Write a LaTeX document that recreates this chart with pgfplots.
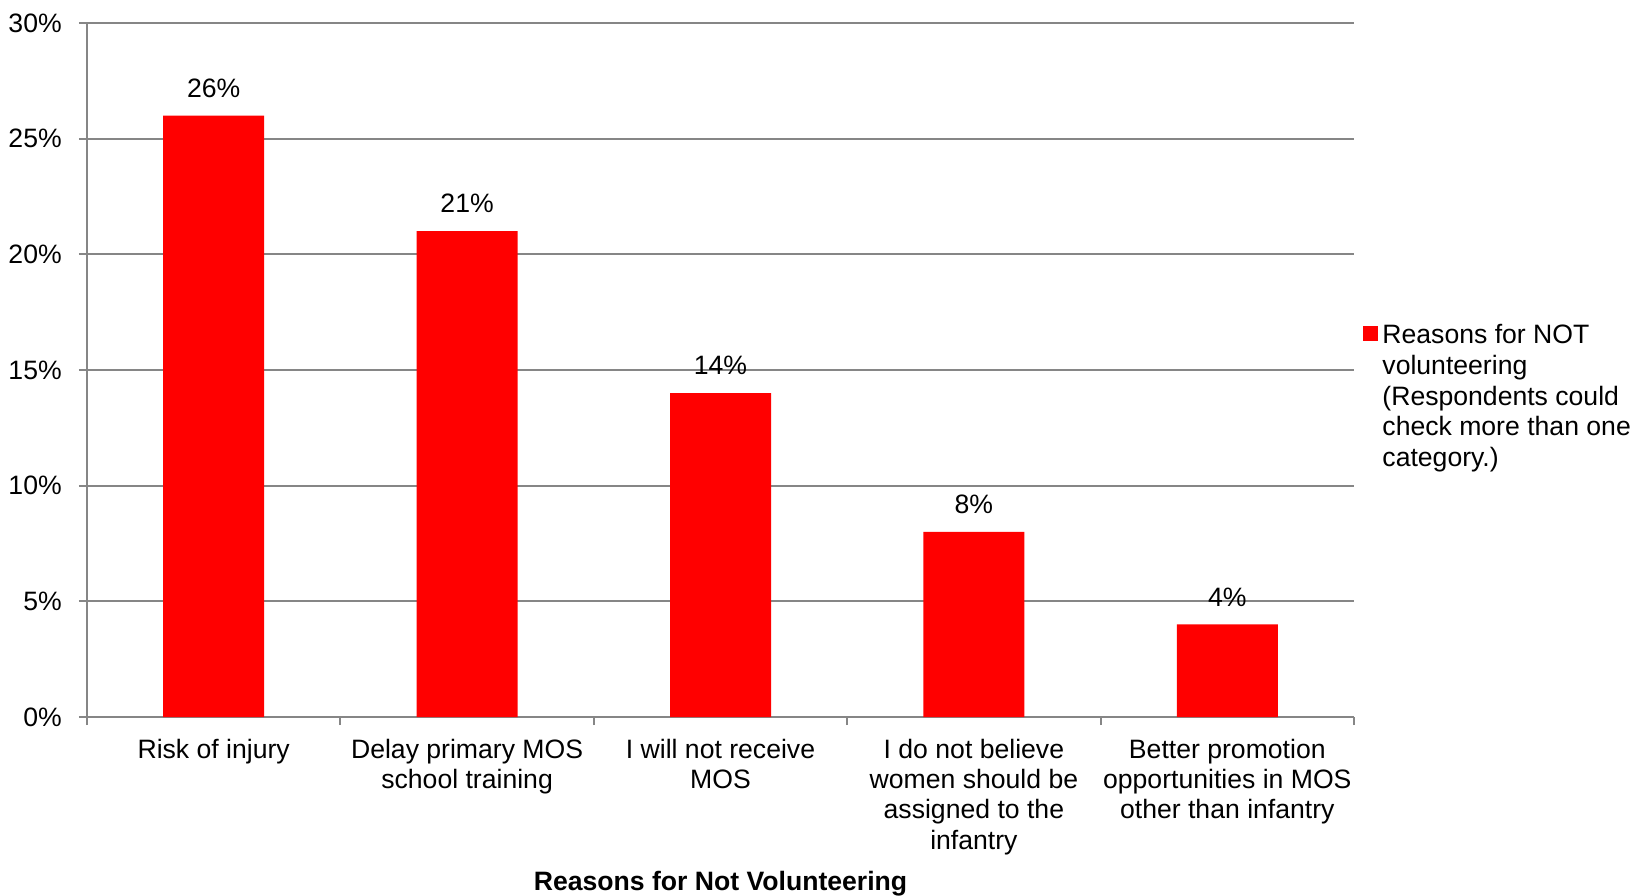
\documentclass[border=0pt]{standalone}
\usepackage{pgfplots}
\pgfplotsset{compat=1.18}
\usepackage{fontspec}
\setmainfont{Liberation Sans}
\definecolor{axgray}{HTML}{868686}
\definecolor{barred}{HTML}{FF0000}
\begin{document}
\fontsize{13.3}{15.2}\selectfont
\begin{tikzpicture}
\path[use as bounding box] (0,0) rectangle (816.5pt,447.5pt);
\begin{axis}[
  at={(43.5pt,89pt)}, anchor=south west,
  scale only axis, width=633.5pt, height=347pt,
  xmin=-0.5, xmax=4.5, ymin=0, ymax=30,
  axis x line*=bottom, axis y line*=left,
  axis line style={draw=axgray, line width=1pt, -},
  ytick={0,5,10,15,20,25,30},
  yticklabels={0\%,5\%,10\%,15\%,20\%,25\%,30\%},
  ymajorgrids, major grid style={draw=axgray, line width=1pt},
  tick align=outside,
  ytick style={draw=axgray, line width=1pt},
  major tick length=4pt,
  yticklabel style={font=\fontsize{13.3}{15.2}\selectfont, xshift=-4pt},
  xtick={0,1,2,3,4},
  xticklabels={Risk of injury, Delay primary MOS\\school training, I will not receive\\MOS, I do not believe\\women should be\\assigned to the\\infantry, Better promotion\\opportunities in MOS\\other than infantry},
  xticklabel style={align=center, font=\fontsize{13.3}{15.1}\selectfont, yshift=-2.5pt},
  x tick style={draw=none},
  minor xtick={-0.5,0.5,1.5,2.5,3.5,4.5},
  minor x tick style={draw=axgray, line width=1pt},
  minor tick length=4pt,
  xlabel={\bfseries Reasons for Not Volunteering},
  xlabel style={at={(axis description cs:0.5,-0.222)}, anchor=north, inner sep=0pt, font=\fontsize{13.3}{15}\selectfont},
  ybar, bar width=50.5pt,
  nodes near coords={\pgfmathprintnumber[assume math mode=true]{\pgfplotspointmeta}\%},
  nodes near coords style={font=\fontsize{13.3}{15}\selectfont, yshift=4.5pt},
  legend style={at={(1.0024,0.578)}, anchor=north west, draw=none, fill=none,
    font=\fontsize{13.3}{15.4}\selectfont,
    cells={align=left, anchor=west}},
  legend image code/.code={\fill[barred] (-0.5pt,28.2pt) rectangle (7pt,35.7pt);},
]
\addplot[fill=barred, draw=none] coordinates {(0,26) (1,21) (2,14) (3,8) (4,4)};
\addlegendentry{Reasons for NOT\\volunteering\\(Respondents could\\check more than one\\category.)}
\end{axis}
\end{tikzpicture}
\end{document}
